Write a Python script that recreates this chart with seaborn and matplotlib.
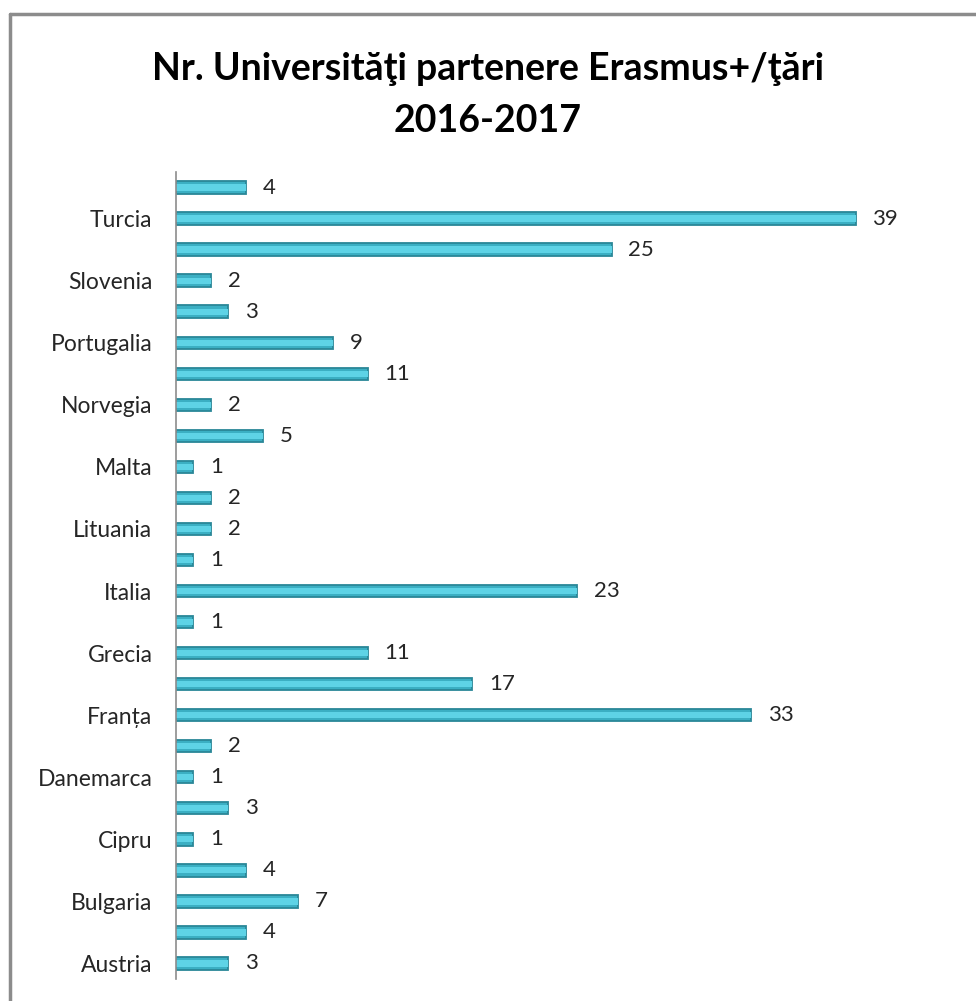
import matplotlib
matplotlib.use('Agg')
import matplotlib.pyplot as plt
from matplotlib.lines import Line2D
import seaborn as sns
import pandas as pd

# Data (alphabetical, as in the source chart; only every other name is shown)
countries = ['Austria', 'Belgia', 'Bulgaria', 'Cehia', 'Cipru', 'Croația',
             'Danemarca', 'Estonia', 'Franța', 'Germania', 'Grecia', 'Irlanda',
             'Italia', 'Letonia', 'Lituania', 'Macedonia', 'Malta', 'Marea Britanie',
             'Norvegia', 'Polonia', 'Portugalia', 'Slovacia', 'Slovenia', 'Spania',
             'Turcia', 'Ungaria']
universities = [3, 4, 7, 4, 1, 3, 1, 2, 33, 17, 11, 1, 23, 1, 2, 2, 1, 5,
                2, 11, 9, 3, 2, 25, 39, 4]
title = 'Nr. Universităţi partenere Erasmus+/ţări\n2016-2017'

sns.set_theme(style='white')
plt.rcParams['font.family'] = ['Lato', 'DejaVu Sans']

df = pd.DataFrame({'country': countries, 'n': universities})
order = countries[::-1]  # Austria at the bottom

fig = plt.figure(figsize=(9.76, 10.01), dpi=100)
ax = fig.add_axes([176 / 976, 1 - 979 / 1001, (908 - 176) / 976, (979 - 172) / 1001])

# main bars (darker body) + lighter inner strip for the bevelled look
sns.barplot(data=df, y='country', x='n', order=order, orient='h',
            color='#3BAFC3', edgecolor='#2A8797', linewidth=1.3,
            width=0.4, saturation=1, ax=ax)
sns.barplot(data=df, y='country', x='n', order=order, orient='h',
            color='#5ED3E6', linewidth=0, width=0.2, saturation=1, ax=ax)

# Value labels (from the first container only)
cont = ax.containers[0]
ax.bar_label(cont, labels=[f'{int(v)}' for v in cont.datavalues],
             padding=12, fontsize=16, color='#262626')

ax.set_xlim(0, 42)
ax.set_xlabel('')
ax.set_ylabel('')
ax.set_xticks([])

# show only every other category name (starting from the bottom)
labels = [c if (len(order) - 1 - i) % 2 == 0 else '' for i, c in enumerate(order)]
ax.set_yticks(range(len(order)))
ax.set_yticklabels(labels, fontsize=16.5, color='#262626')
ax.tick_params(axis='y', length=0, pad=17)

sns.despine(ax=ax, top=True, right=True, bottom=True, left=False)
ax.spines['left'].set_color('#8C8C8C')
ax.spines['left'].set_linewidth(1.2)

fig.text(0.5, 1 - 95 / 1001, title, ha='center', va='center',
         fontsize=27, fontweight='bold', color='black', linespacing=1.65)

# chart area frame (top and left edges visible)
fig.add_artist(Line2D([10 / 976, 10 / 976], [0, 1 - 14 / 1001],
                      transform=fig.transFigure, color='#8C8C8C', lw=2.5))
fig.add_artist(Line2D([10 / 976, 1], [1 - 14 / 1001, 1 - 14 / 1001],
                      transform=fig.transFigure, color='#8C8C8C', lw=2.5))

fig.savefig('out.png', dpi=100, facecolor='white')
